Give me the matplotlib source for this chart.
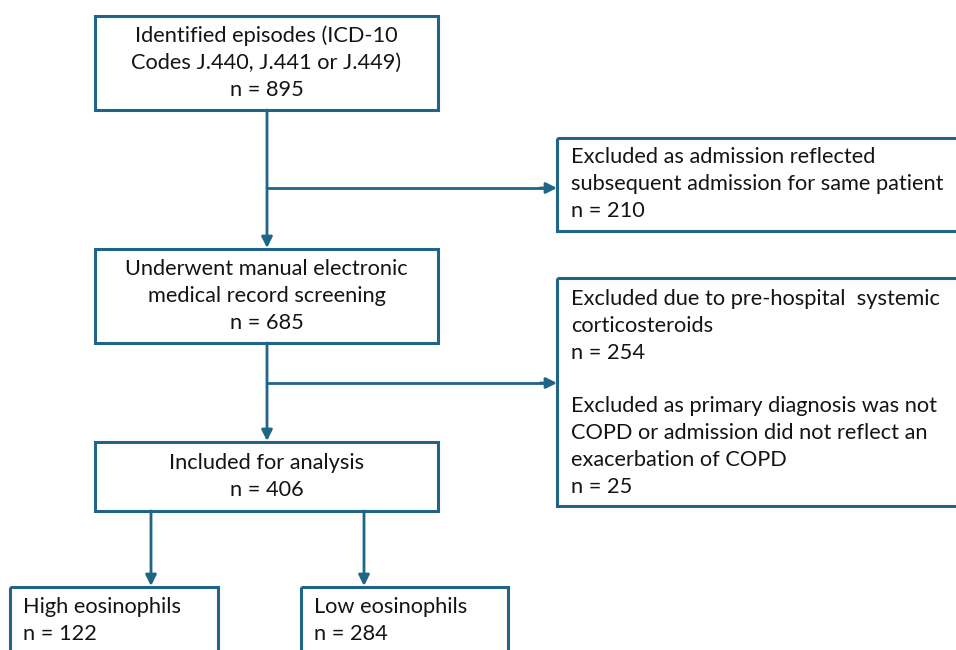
import matplotlib
matplotlib.use("Agg")
import matplotlib.pyplot as plt
from matplotlib.patches import Rectangle

# ---- data ----
stage_labels = [
    ["Identified episodes (ICD-10", "Codes J.440, J.441 or J.449)"],
    ["Underwent manual electronic", "medical record screening"],
    ["Included for analysis"],
]
stage_counts = [895, 685, 406]

excl1_labels = ["Excluded as admission reflected", "subsequent admission for same patient"]
excl1_count = 210
excl2a_labels = ["Excluded due to pre-hospital  systemic", "corticosteroids"]
excl2a_count = 254
excl2b_labels = ["Excluded as primary diagnosis was not", "COPD or admission did not reflect an",
                 "exacerbation of COPD"]
excl2b_count = 25

group_labels = ["High eosinophils", "Low eosinophils"]
group_counts = [122, 284]

# ---- style ----
EDGE = "#1f6587"
TXT = "#141414"
FONT = "Lato"
FS = 15.7
LH = 27  # line height in px
W, H = 956, 650

fig = plt.figure(figsize=(W / 100, H / 100), dpi=100)
ax = fig.add_axes([0, 0, 1, 1])
ax.set_xlim(0, W)
ax.set_ylim(H, 0)
ax.axis("off")


def box(x0, y0, x1, y1):
    ax.add_patch(Rectangle((x0, y0), x1 - x0, y1 - y0, fill=False,
                           edgecolor=EDGE, linewidth=2.2, zorder=2))


def lines_text(lines, x, y_first, ha):
    for i, s in enumerate(lines):
        ax.text(x, y_first + i * LH, s, ha=ha, va="center", fontsize=FS,
                family=FONT, color=TXT)


def arrow(x0, y0, x1, y1):
    ax.annotate("", xy=(x1, y1), xytext=(x0, y0),
                arrowprops=dict(arrowstyle="-|>", color=EDGE, lw=2.0,
                                mutation_scale=16, shrinkA=0, shrinkB=0),
                zorder=3)


def line(x0, y0, x1, y1):
    ax.plot([x0, x1], [y0, y1], color=EDGE, lw=2.0, solid_capstyle="butt", zorder=3)


# main stage boxes
stage_boxes = [(95, 16, 438, 110), (95, 249, 438, 343), (95, 442, 438, 511)]
for (x0, y0, x1, y1), lab, n in zip(stage_boxes, stage_labels, stage_counts):
    ls = lab + [f"n = {n}"]
    yc = (y0 + y1) / 2
    lines_text(ls, (x0 + x1) / 2, yc - (len(ls) - 1) * LH / 2, "center")
    box(x0, y0, x1, y1)

cx = 267
# arrows between stages
arrow(cx, 110, cx, 248)
line(cx, 188, 545, 188)
arrow(540, 188, 557, 188)
arrow(cx, 343, cx, 441)
line(cx, 383, 545, 383)
arrow(540, 383, 557, 383)

# exclusion boxes
box(557, 138, 975, 231)
lines_text(excl1_labels + [f"n = {excl1_count}"], 571, 157, "left")

box(557, 278, 975, 506)
lines_text(excl2a_labels + [f"n = {excl2a_count}"], 571, 299, "left")
lines_text(excl2b_labels + [f"n = {excl2b_count}"], 571, 406, "left")

# group boxes
group_boxes = [(10, 587, 218, 670), (301, 587, 508, 670)]
for (x0, y0, x1, y1), lab, n in zip(group_boxes, group_labels, group_counts):
    box(x0, y0, x1, y1)
    lines_text([lab, f"n = {n}"], x0 + 13, 607, "left")

arrow(151, 511, 151, 586)
arrow(364, 511, 364, 586)

fig.savefig("out.png", dpi=100, facecolor="white")
